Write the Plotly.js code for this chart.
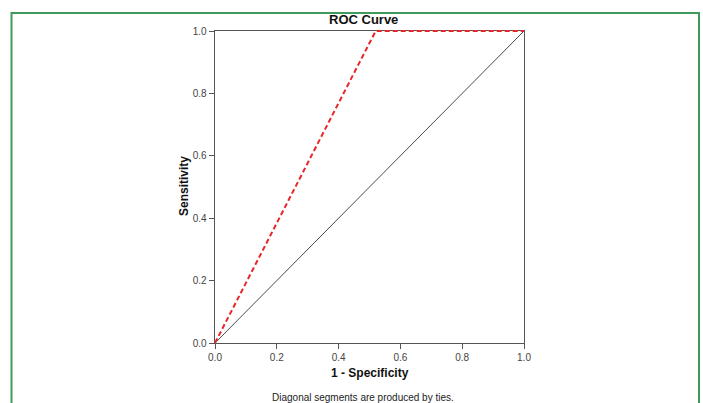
<!DOCTYPE html>
<html>
<head>
<meta charset="utf-8">
<script src="https://cdn.plot.ly/plotly-3.0.1.min.js"></script>
<style>html,body{margin:0;padding:0;background:#fff;}#chart{width:703px;height:403px;}</style>
</head>
<body>
<div id="chart"></div>
<script>
const rocFPR = [0.0, 0.52, 1.0];
const rocTPR = [0.0, 1.0, 1.0];
const refX = [0.0, 1.0];
const refY = [0.0, 1.0];
const tickVals = [0.0, 0.2, 0.4, 0.6, 0.8, 1.0];
const tickText = ["0.0", "0.2", "0.4", "0.6", "0.8", "1.0"];

// frame of the axes in pixels
const L = 215, R = 524, T = 31, B = 343, W = 703, H = 403;
const E = 4; // extra room so lines on the frame are not clipped
const pw = R - L, ph = B - T;
const PL = L - E, PR = R + E, PT = T - E, PB = B + E;
const ppw = PR - PL, pph = PB - PT;
const px = x => (x - PL) / ppw;
const py = y => (PB - y) / pph;

const traces = [
  {x: refX, y: refY, xaxis: 'x', yaxis: 'y', mode: 'lines', line: {color: '#4a4a4a', width: 1}, hoverinfo: 'skip'},
  {x: rocFPR, y: rocTPR, xaxis: 'x2', yaxis: 'y2', mode: 'lines', line: {color: '#e8262a', width: 2, dash: '5px,3px'}}
];

const font = 'Liberation Sans, Arial, sans-serif';
const axisCommon = {
  range: [0, 1], tickvals: tickVals, ticktext: tickText,
  showgrid: false, zeroline: false, showline: true, mirror: true,
  linecolor: '#555', linewidth: 1.4, ticks: 'outside', ticklen: 5, tickcolor: '#555',
  tickfont: {family: font, size: 10, color: '#444'},
  fixedrange: true
};

const layout = {
  width: W, height: H,
  margin: {l: PL, r: W - PR, t: PT, b: H - PB},
  paper_bgcolor: '#fff', plot_bgcolor: 'rgba(0,0,0,0)',
  showlegend: false,
  xaxis: Object.assign({}, axisCommon, {domain: [E / ppw, 1 - E / ppw], anchor: 'y'}),
  yaxis: Object.assign({}, axisCommon, {domain: [E / pph, 1 - E / pph], anchor: 'x'}),
  xaxis2: {anchor: 'y2', domain: [0, 1], range: [-E / pw, 1 + E / pw], visible: false, fixedrange: true},
  yaxis2: {anchor: 'x2', domain: [0, 1], range: [-E / ph, 1 + E / ph], visible: false, fixedrange: true},
  shapes: [
    {type: 'rect', xref: 'paper', yref: 'paper', x0: px(11.5), x1: px(699), y0: py(13), y1: py(420),
     line: {color: '#3f9a5c', width: 2}, fillcolor: 'rgba(0,0,0,0)', layer: 'below'}
  ],
  annotations: [
    {text: '<b>ROC Curve</b>', xref: 'paper', yref: 'paper', x: px(363), y: py(20), showarrow: false,
     xanchor: 'center', yanchor: 'middle', font: {family: font, size: 13, color: '#111'}},
    {text: '<b>1 - Specificity</b>', xref: 'paper', yref: 'paper', x: px(370), y: py(373), showarrow: false,
     xanchor: 'center', yanchor: 'middle', font: {family: font, size: 12, color: '#111'}},
    {text: '<b>Sensitivity</b>', xref: 'paper', yref: 'paper', x: px(184), y: py(186), showarrow: false, textangle: -90,
     xanchor: 'center', yanchor: 'middle', font: {family: font, size: 12, color: '#111'}},
    {text: 'Diagonal segments are produced by ties.', xref: 'paper', yref: 'paper', x: px(363), y: py(397), showarrow: false,
     xanchor: 'center', yanchor: 'middle', font: {family: font, size: 10, color: '#222'}}
  ]
};

Plotly.newPlot('chart', traces, layout, {displayModeBar: false, staticPlot: true});
</script>
</body>
</html>
